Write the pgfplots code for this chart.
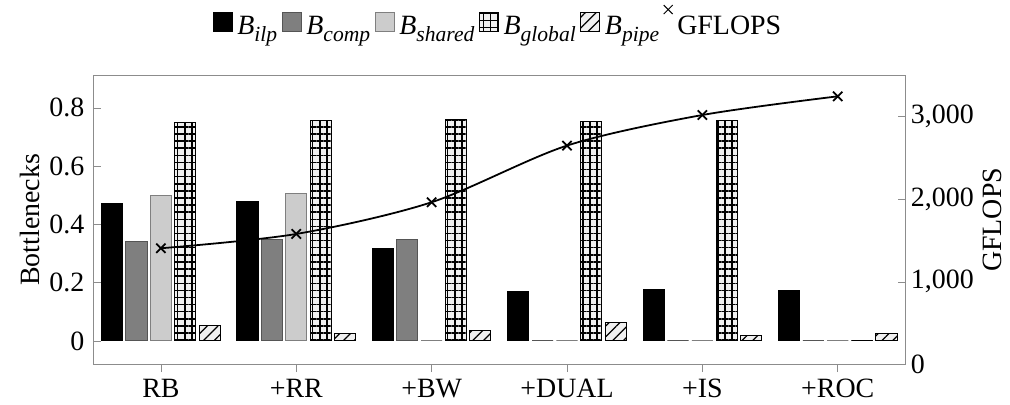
\documentclass[border=0pt]{standalone}
\usepackage{pgfplots}
\usepackage{pgfplotstable}
\pgfplotsset{compat=1.18}
\usepackage{fontspec}
\setmainfont{Liberation Serif}
\usetikzlibrary{patterns,patterns.meta}
\definecolor{cgray}{HTML}{7F7F7F}
\definecolor{clight}{HTML}{CCCCCC}
\definecolor{cgrid}{HTML}{F0F0F0}
\definecolor{axgray}{HTML}{8C8C8C}
\definecolor{bordgray}{HTML}{555555}
\newcommand\B[1]{\textit{B}\raisebox{-0.55ex}{\fontsize{8.5}{9}\selectfont\itshape #1}}

\pgfplotsset{
  mybox/.style={legend image code/.code={\draw[##1] (0pt,-1.5pt) rectangle (7.5pt,6pt);}},
  gridfill/.style={fill=cgrid, draw=black,
    postaction={pattern={Lines[angle=0,distance=2.8pt,line width=0.6pt]}},
    postaction={pattern={Lines[angle=90,distance=2.8pt,line width=0.6pt]}}},
  hatchfill/.style={fill=cgrid, draw=black,
    postaction={pattern={Lines[angle=45,distance=3pt,line width=0.5pt]}}},
}

\pgfplotstableread{
x ilp comp shared global pipe
0 0.471 0.342 0.500 0.751 0.053
1 0.477 0.347 0.507 0.757 0.027
2 0.318 0.348 0.000 0.759 0.035
3 0.171 0.000 0.000 0.754 0.062
4 0.177 0.000 0.000 0.757 0.020
5 0.173 0.000 0.000 0.000 0.026
}\bottlenecks

\pgfplotstableread{
x gflops
0 1406
1 1579
2 1963
3 2648
4 3018
5 3244
}\gflops

\begin{document}
\begin{tikzpicture}[font=\fontsize{11}{13}\selectfont]
\begin{axis}[
  width=320pt, height=114pt, scale only axis,
  xmin=-0.5, xmax=5.5, ymin=-0.081, ymax=0.912,
  xtick={0,...,5}, xticklabels={RB,+RR,+BW,+DUAL,+IS,+ROC},
  ytick={0,0.2,0.4,0.6,0.8},
  xtick pos=bottom, ytick pos=left,
  xtick align=outside, ytick align=inside,
  major tick length=3pt,
  tick style={axgray},
  axis line style={axgray},
  xticklabel style={inner ysep=2.5pt},
  yticklabel style={/pgf/number format/fixed,/pgf/number format/precision=1},
  /pgf/number format/assume math mode=true,
  ylabel={Bottlenecks},
  ylabel shift=-3pt,
]
\addplot[ybar, bar width=0.156, bar shift=-0.36, fill=black, draw=black] table[x=x,y=ilp]{\bottlenecks};
\addplot[ybar, bar width=0.156, bar shift=-0.18, fill=cgray, draw=bordgray] table[x=x,y=comp]{\bottlenecks};
\addplot[ybar, bar width=0.156, bar shift=0, fill=clight, draw=cgray] table[x=x,y=shared]{\bottlenecks};
\addplot[ybar, bar width=0.156, bar shift=0.18, gridfill] table[x=x,y=global]{\bottlenecks};
\addplot[ybar, bar width=0.156, bar shift=0.36, hatchfill] table[x=x,y=pipe]{\bottlenecks};
\end{axis}
\begin{axis}[
  width=320pt, height=114pt, scale only axis,
  xmin=-0.5, xmax=5.5, ymin=0, ymax=3500,
  axis x line=none, axis y line*=right,
  ytick={0,1000,2000,3000},
  ytick align=inside,
  major tick length=3pt,
  tick style={axgray},
  axis line style={axgray,-},
  /pgf/number format/1000 sep={,},
  /pgf/number format/assume math mode=true,
  yticklabel style={inner xsep=2pt},
  ylabel={GFLOPS},
  ylabel shift=-2pt,
  legend style={at={(0.5,1.09)}, anchor=south, draw=none, fill=none,
    legend columns=-1, nodes={inner xsep=1.8pt},
    /tikz/every even column/.append style={column sep=0pt}},
  legend cell align=left,
]
\addlegendimage{mybox, fill=black, draw=black}
\addlegendentry{\B{ilp}}
\addlegendimage{mybox, fill=cgray, draw=bordgray}
\addlegendentry{\B{comp}}
\addlegendimage{mybox, fill=clight, draw=cgray}
\addlegendentry{\B{shared}}
\addlegendimage{mybox, gridfill}
\addlegendentry{\B{global}}
\addlegendimage{mybox, hatchfill}
\addlegendentry{\B{pipe}}
\addlegendimage{only marks, mark=x, black, mark size=2.5pt, mark options={yshift=7pt}}
\addlegendentry{GFLOPS}
\addplot[black, line width=0.7pt, mark=x, mark size=2.6pt, smooth, forget plot] table[x=x,y=gflops]{\gflops};
\end{axis}
\path (current bounding box.south west) ++(-4.5pt,0);
\end{tikzpicture}
\end{document}
